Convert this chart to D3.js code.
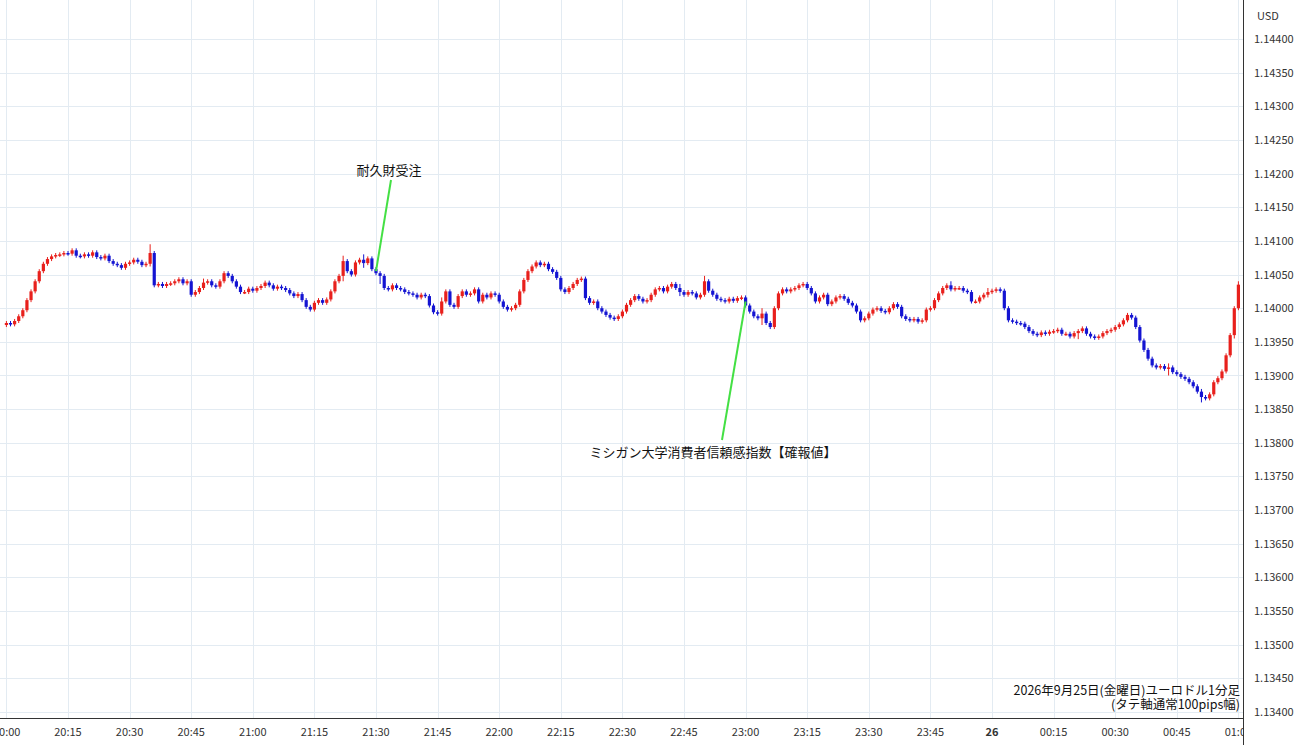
<!DOCTYPE html>
<html>
<head>
<meta charset="utf-8">
<script src="https://cdn.jsdelivr.net/npm/d3@7"></script>
<style>
body { margin: 0; background: #fff; }
text { font-family: "Noto Sans CJK JP", "Noto Sans", sans-serif; }
</style>
</head>
<body>
<div id="chart"></div>
<script>
const svgWidth = 1300
const svgHeight = 745

// closes per minute from 20:00, in 1e-5 above 1.13000
const closes = [
  978,976,981,988,997,1012,1025,1040,1055,1066,1073,1077,1079,1080,1082,
  1081,1086,1078,1077,1080,1078,1083,1076,1074,1078,1070,1066,1064,1060,1066,
  1068,1072,1069,1064,1066,1082,1034,1036,1033,1036,1037,1040,1043,1037,1040,
  1020,1024,1030,1038,1040,1034,1032,1040,1052,1048,1040,1032,1024,1024,1029,
  1026,1030,1033,1038,1034,1029,1032,1030,1027,1022,1018,1021,1012,1002,998,
  1008,1012,1008,1013,1025,1040,1048,1070,1055,1050,1068,1072,1067,1074,1058,
  1052,1048,1030,1028,1034,1030,1028,1024,1022,1020,1016,1020,1018,1004,994,
  992,1010,1025,1005,1002,1018,1025,1020,1022,1028,1010,1020,1016,1022,1020,
  1010,1002,998,1000,1005,1025,1042,1055,1062,1068,1064,1066,1058,1054,1045,
  1028,1024,1030,1036,1042,1044,1015,1008,1010,1000,995,990,986,984,988,
  995,1005,1012,1018,1014,1010,1012,1020,1028,1030,1025,1032,1036,1030,1024,
  1020,1024,1022,1016,1020,1040,1026,1020,1014,1012,1010,1014,1011,1015,1016,
  1004,995,988,985,992,978,972,1000,1022,1028,1025,1028,1030,1034,1036,
  1030,1022,1010,1016,1020,1006,1010,1016,1018,1014,1008,1004,995,982,985,
  992,998,1000,996,994,1000,1006,1002,988,984,982,984,980,982,998,
  1000,1012,1022,1030,1034,1028,1030,1030,1026,1024,1010,1010,1016,1020,1024,
  1026,1028,1026,1000,982,980,978,977,972,966,962,960,964,962,965,
  966,968,962,962,958,963,966,970,962,958,956,958,963,966,968,
  972,976,982,990,986,972,952,938,925,915,912,914,910,912,905,
  902,898,895,890,884,876,868,866,872,890,896,906,930,960,1000,
  1035
]
const firstOpen = 975
// notable wick extremes: [minute, high, low]
const spikes = [[35,1095,1062],[48,1044,1030],[82,1078,1040],[87,1080,1060],[91,1055,1036],[106,1016,990],
  [164,1036,1018],[170,1048,1018],[184,1000,975],[239,1030,1016],[230,1040,1028],[261,966,954],
  [283,918,900],[291,880,860],[299,1002,955],[300,1040,998]]
const yTicks = d3.range(113400, 114401, 50).map(d => d / 100000)
const xTickLabels = [":00","20:15","20:30","20:45","21:00","21:15","21:30","21:45","22:00","22:15","22:30","22:45",
  "23:00","23:15","23:30","23:45","26","00:15","00:30","00:45","01:00"]
const events = [
  { name: "耐久財受注", minute: 90, price: 1.14055, tx: 389, ty: 175 },
  { name: "ミシガン大学消費者信頼感指数【確報値】", minute: 180, price: 1.14010, tx: 713, ty: 457 }
]

const plotRight = 1243
const plotBottom = 718

let x = d3.scaleLinear().domain([0, 15]).range([6.4, 68])
let y = d3.scaleLinear().domain([1.134, 1.144]).range([712, 39])

let candles = closes.map((c, i) => {
  let o = i === 0 ? firstOpen : closes[i - 1]
  let hi = Math.max(o, c) + 3, lo = Math.min(o, c) - 3
  let s = spikes.find(d => d[0] === i)
  if (s) { hi = Math.max(hi, s[1]); lo = Math.min(lo, s[2]) }
  return { i, o: 1.13 + o / 1e5, c: 1.13 + c / 1e5, h: 1.13 + hi / 1e5, l: 1.13 + lo / 1e5 }
})

let svg = d3.select("#chart").append("svg")
  .attr("width", svgWidth).attr("height", svgHeight)

svg.append("clipPath").attr("id", "plot")
  .append("rect").attr("x", 0).attr("y", 0).attr("width", plotRight).attr("height", svgHeight)

let grid = svg.append("g").attr("stroke", "#e3ebf2").attr("stroke-width", 1)
grid.selectAll("line.h").data(yTicks).enter().append("line")
  .attr("x1", 0).attr("x2", plotRight)
  .attr("y1", d => Math.round(y(d)) + 0.5).attr("y2", d => Math.round(y(d)) + 0.5)
grid.selectAll("line.v").data(xTickLabels).enter().append("line")
  .attr("x1", (d, i) => Math.round(x(i * 15)) + 0.5).attr("x2", (d, i) => Math.round(x(i * 15)) + 0.5)
  .attr("y1", 0).attr("y2", plotBottom)

let plot = svg.append("g").attr("clip-path", "url(#plot)")
let cg = plot.selectAll("g.c").data(candles).enter().append("g")
  .attr("fill", d => d.c >= d.o ? "#e8201c" : "#1414d2")
  .attr("stroke", d => d.c >= d.o ? "#e8201c" : "#1414d2")
cg.append("line")
  .attr("x1", d => x(d.i)).attr("x2", d => x(d.i))
  .attr("y1", d => y(d.h)).attr("y2", d => y(d.l)).attr("stroke-width", 1)
cg.append("rect")
  .attr("x", d => x(d.i) - 1.6).attr("width", 3.2)
  .attr("y", d => y(Math.max(d.o, d.c)))
  .attr("height", d => Math.max(1.5, Math.abs(y(d.o) - y(d.c))))
  .attr("stroke", "none")

// event annotations
events.forEach(e => {
  svg.append("line")
    .attr("x1", e.tx + (e.ty < 300 ? 2 : 9)).attr("y1", e.ty < 300 ? e.ty + 5 : e.ty - 17)
    .attr("x2", x(e.minute)).attr("y2", y(e.price))
    .attr("stroke", "#44e044").attr("stroke-width", 2)
  svg.append("text").attr("x", e.tx).attr("y", e.ty)
    .attr("text-anchor", "middle").attr("font-size", 13).attr("fill", "#111")
    .text(e.name)
})

// axes
svg.append("line").attr("x1", plotRight + 0.5).attr("x2", plotRight + 0.5)
  .attr("y1", 0).attr("y2", svgHeight).attr("stroke", "#333")
svg.append("line").attr("x1", 0).attr("x2", plotRight)
  .attr("y1", plotBottom + 0.5).attr("y2", plotBottom + 0.5).attr("stroke", "#333")

svg.selectAll("text.yt").data(yTicks).enter().append("text")
  .attr("x", 1254).attr("y", d => y(d) + 4)
  .attr("font-size", 11).attr("fill", "#333")
  .text(d => d.toFixed(5))
svg.append("text").attr("x", 1257).attr("y", 20).attr("font-size", 11).attr("fill", "#333").text("USD")

svg.append("g").attr("clip-path", "url(#plot)")
  .selectAll("text").data(xTickLabels).enter().append("text")
  .attr("x", (d, i) => x(i * 15)).attr("y", 736)
  .attr("text-anchor", (d, i) => i === 0 ? "end" : "middle")
  .attr("dx", (d, i) => i === 0 ? 14 : 0)
  .attr("font-size", 11).attr("fill", "#333")
  .attr("font-weight", d => d === "26" ? "bold" : "normal")
  .text(d => d === ":00" ? "20:00" : d)

let note = svg.append("text").attr("text-anchor", "end").attr("font-size", 12.5).attr("fill", "#111")
note.append("tspan").attr("x", 1240).attr("y", 695).text("2026年9月25日(金曜日)ユーロドル1分足")
note.append("tspan").attr("x", 1240).attr("y", 709).text("(タテ軸通常100pips幅)")
</script>
</body>
</html>
